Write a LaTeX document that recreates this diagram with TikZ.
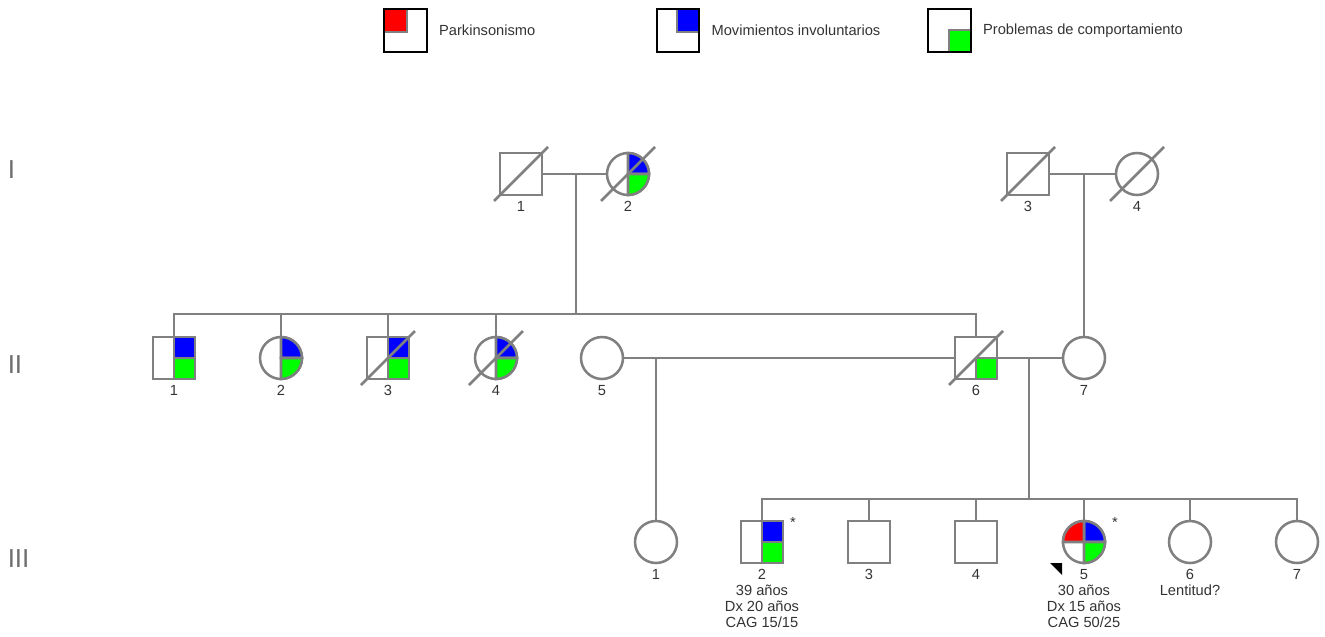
\documentclass[tikz,border=0pt]{standalone}
\usepackage{fontspec}
\setmainfont{Liberation Sans}
\usetikzlibrary{positioning}

\definecolor{lc}{HTML}{808080}
\definecolor{tc}{HTML}{333333}
\definecolor{gc}{HTML}{6E6E6E}
\definecolor{pkred}{HTML}{FF0000}
\definecolor{mvblue}{HTML}{0000FF}
\definecolor{pbgreen}{HTML}{00FF00}

\begin{document}
\begin{tikzpicture}[x=0.75pt, y=-0.75pt,
  ln/.style={draw=lc, line width=1.9pt},
  male/.style={ln, rectangle, minimum size=31.5pt, inner sep=0, outer sep=0},
  female/.style={ln, circle, minimum size=31.5pt, inner sep=0, outer sep=0},
  num/.style={below=4.3pt, inner sep=0, align=center, text=tc, font=\fontsize{11}{12}\selectfont},
  gen/.style={anchor=west, inner sep=0, text=gc, font=\fontsize{19.5}{20}\selectfont},
  astx/.style={inner sep=0, text=tc, font=\fontsize{11}{11}\selectfont},
  legbox/.style={draw=black, line width=1.5pt, minimum size=32pt, inner sep=0, outer sep=0},
  legtxt/.style={inner sep=0, text=tc, font=\fontsize{11}{12}\selectfont}]
\useasboundingbox (0,0) rectangle (1325,636);
\def\ya{174}
\def\yb{358}
\def\yc{542}
\def\rad{15.75pt}

\node[legbox] (lp) at (405.5,30.5) {};
\fill[lc] ([shift={(1,1)}]lp.north west) rectangle ([shift={(2,2)}]lp.center);
\fill[pkred] ([shift={(1,1)}]lp.north west) rectangle (lp.center);
\node[legtxt, right=9pt of lp] (tp) {Parkinsonismo};

\node[legbox] (lm) at (678,30.5) {};
\fill[lc] ([shift={(-1,1)}]lm.north east) rectangle ([shift={(-2,2)}]lm.center);
\fill[mvblue] ([shift={(-1,1)}]lm.north east) rectangle (lm.center);
\node[legtxt, right=9pt of lm] (tm) {Movimientos involuntarios};

\node[legbox] (lb) at (949.5,30.5) {};
\fill[lc] ([shift={(-1,-1)}]lb.south east) rectangle ([shift={(-2,-2)}]lb.center);
\fill[pbgreen] ([shift={(-1,-1)}]lb.south east) rectangle (lb.center);
\node[legtxt, right=9pt of lb] (tb) {Problemas de comportamiento};

\node[gen] (gi) at (7.5,170) {I};
\node[gen] (gii) at (7.5,365) {II};
\node[gen] (giii) at (7.5,558.5) {III};

\node[male] (i1) at (521,\ya) {};
\node[female] (i2) at (628,\ya) {};
\node[male] (i3) at (1028,\ya) {};
\node[female] (i4) at (1137,\ya) {};

\node[male] (ii1) at (174,\yb) {};
\node[female] (ii2) at (281,\yb) {};
\node[male] (ii3) at (388,\yb) {};
\node[female] (ii4) at (496,\yb) {};
\node[female] (ii5) at (602,\yb) {};
\node[male] (ii6) at (976,\yb) {};
\node[female] (ii7) at (1084,\yb) {};

\node[female] (iii1) at (656,\yc) {};
\node[male] (iii2) at (762,\yc) {};
\node[male] (iii3) at (869,\yc) {};
\node[male] (iii4) at (976,\yc) {};
\node[female] (iii5) at (1084,\yc) {};
\node[female] (iii6) at (1190,\yc) {};
\node[female] (iii7) at (1297,\yc) {};

\coordinate (ma) at (576,\ya);
\coordinate (sa) at (576,314);
\coordinate (mb) at (1084,\ya);
\coordinate (mc) at (656,\yb);
\coordinate (md) at (1029,\yb);
\coordinate (sb) at (1029,499);

\draw[ln] (i1) -- (i2);
\draw[ln] (i3) -- (i4);
\draw[ln] (ma) -- (sa);
\draw[ln] (mb) -- (ii7.north);
\draw[ln] (ii1.north) -- (ii1.north |- sa) -- (ii6.north |- sa) -- (ii6.north);
\foreach \n in {ii2,ii3,ii4}
  \draw[ln] (\n.north) -- (\n.north |- sa);

\draw[ln] (ii5) -- (ii6);
\draw[ln] (ii6) -- (ii7);
\draw[ln] (mc) -- (iii1.north);
\draw[ln] (md) -- (sb);
\draw[ln] (iii2.north) -- (iii2.north |- sb) -- (iii7.north |- sb) -- (iii7.north);
\foreach \n in {iii3,iii4,iii5,iii6}
  \draw[ln] (\n.north) -- (\n.north |- sb);

\foreach \n in {ii1,ii3,iii2} {
  \filldraw[ln, fill=mvblue] (\n.center) rectangle (\n.north east);
  \filldraw[ln, fill=pbgreen] (\n.center) rectangle (\n.south east);
  \draw[ln] (\n.north) -- (\n.south);
}
\foreach \n in {i2,ii2,ii4,iii5} {
  \filldraw[ln, fill=mvblue] (\n.center) -- (\n.north) arc[start angle=90, end angle=0, radius=\rad] -- cycle;
  \filldraw[ln, fill=pbgreen] (\n.center) -- (\n.east) arc[start angle=0, end angle=-90, radius=\rad] -- cycle;
  \draw[ln] (\n.north) -- (\n.south);
}
\filldraw[ln, fill=pkred] (iii5.center) -- (iii5.west) arc[start angle=180, end angle=90, radius=\rad] -- cycle;
\draw[ln] (iii5.west) -- (iii5.east);
\filldraw[ln, fill=pbgreen] (ii6.center) rectangle (ii6.south east);

\foreach \n in {i1,i2,i3,i4,ii3,ii4,ii6}
  \draw[ln] ([shift={(-27,27)}]\n.center) -- ([shift={(27,-27)}]\n.center);

\fill[black] ([shift={(-34,21)}]iii5.center) -- ([shift={(-22,21)}]iii5.center) -- ([shift={(-22,33)}]iii5.center) -- cycle;

\node[astx] (a2) at ([shift={(31,-20)}]iii2.center) {*};
\node[astx] (a5) at ([shift={(31,-20)}]iii5.center) {*};

\node[num] (ni1) at (i1.south) {1};
\node[num] (ni2) at (i2.south) {2};
\node[num] (ni3) at (i3.south) {3};
\node[num] (ni4) at (i4.south) {4};
\node[num] (nii1) at (ii1.south) {1};
\node[num] (nii2) at (ii2.south) {2};
\node[num] (nii3) at (ii3.south) {3};
\node[num] (nii4) at (ii4.south) {4};
\node[num] (nii5) at (ii5.south) {5};
\node[num] (nii6) at (ii6.south) {6};
\node[num] (nii7) at (ii7.south) {7};
\node[num] (niii1) at (iii1.south) {1};
\node[num] (niii2) at (iii2.south) {2\\39 años\\Dx 20 años\\CAG 15/15};
\node[num] (niii3) at (iii3.south) {3};
\node[num] (niii4) at (iii4.south) {4};
\node[num] (niii5) at (iii5.south) {5\\30 años\\Dx 15 años\\CAG 50/25};
\node[num] (niii6) at (iii6.south) {6\\Lentitud?};
\node[num] (niii7) at (iii7.south) {7};
\end{tikzpicture}
\end{document}
